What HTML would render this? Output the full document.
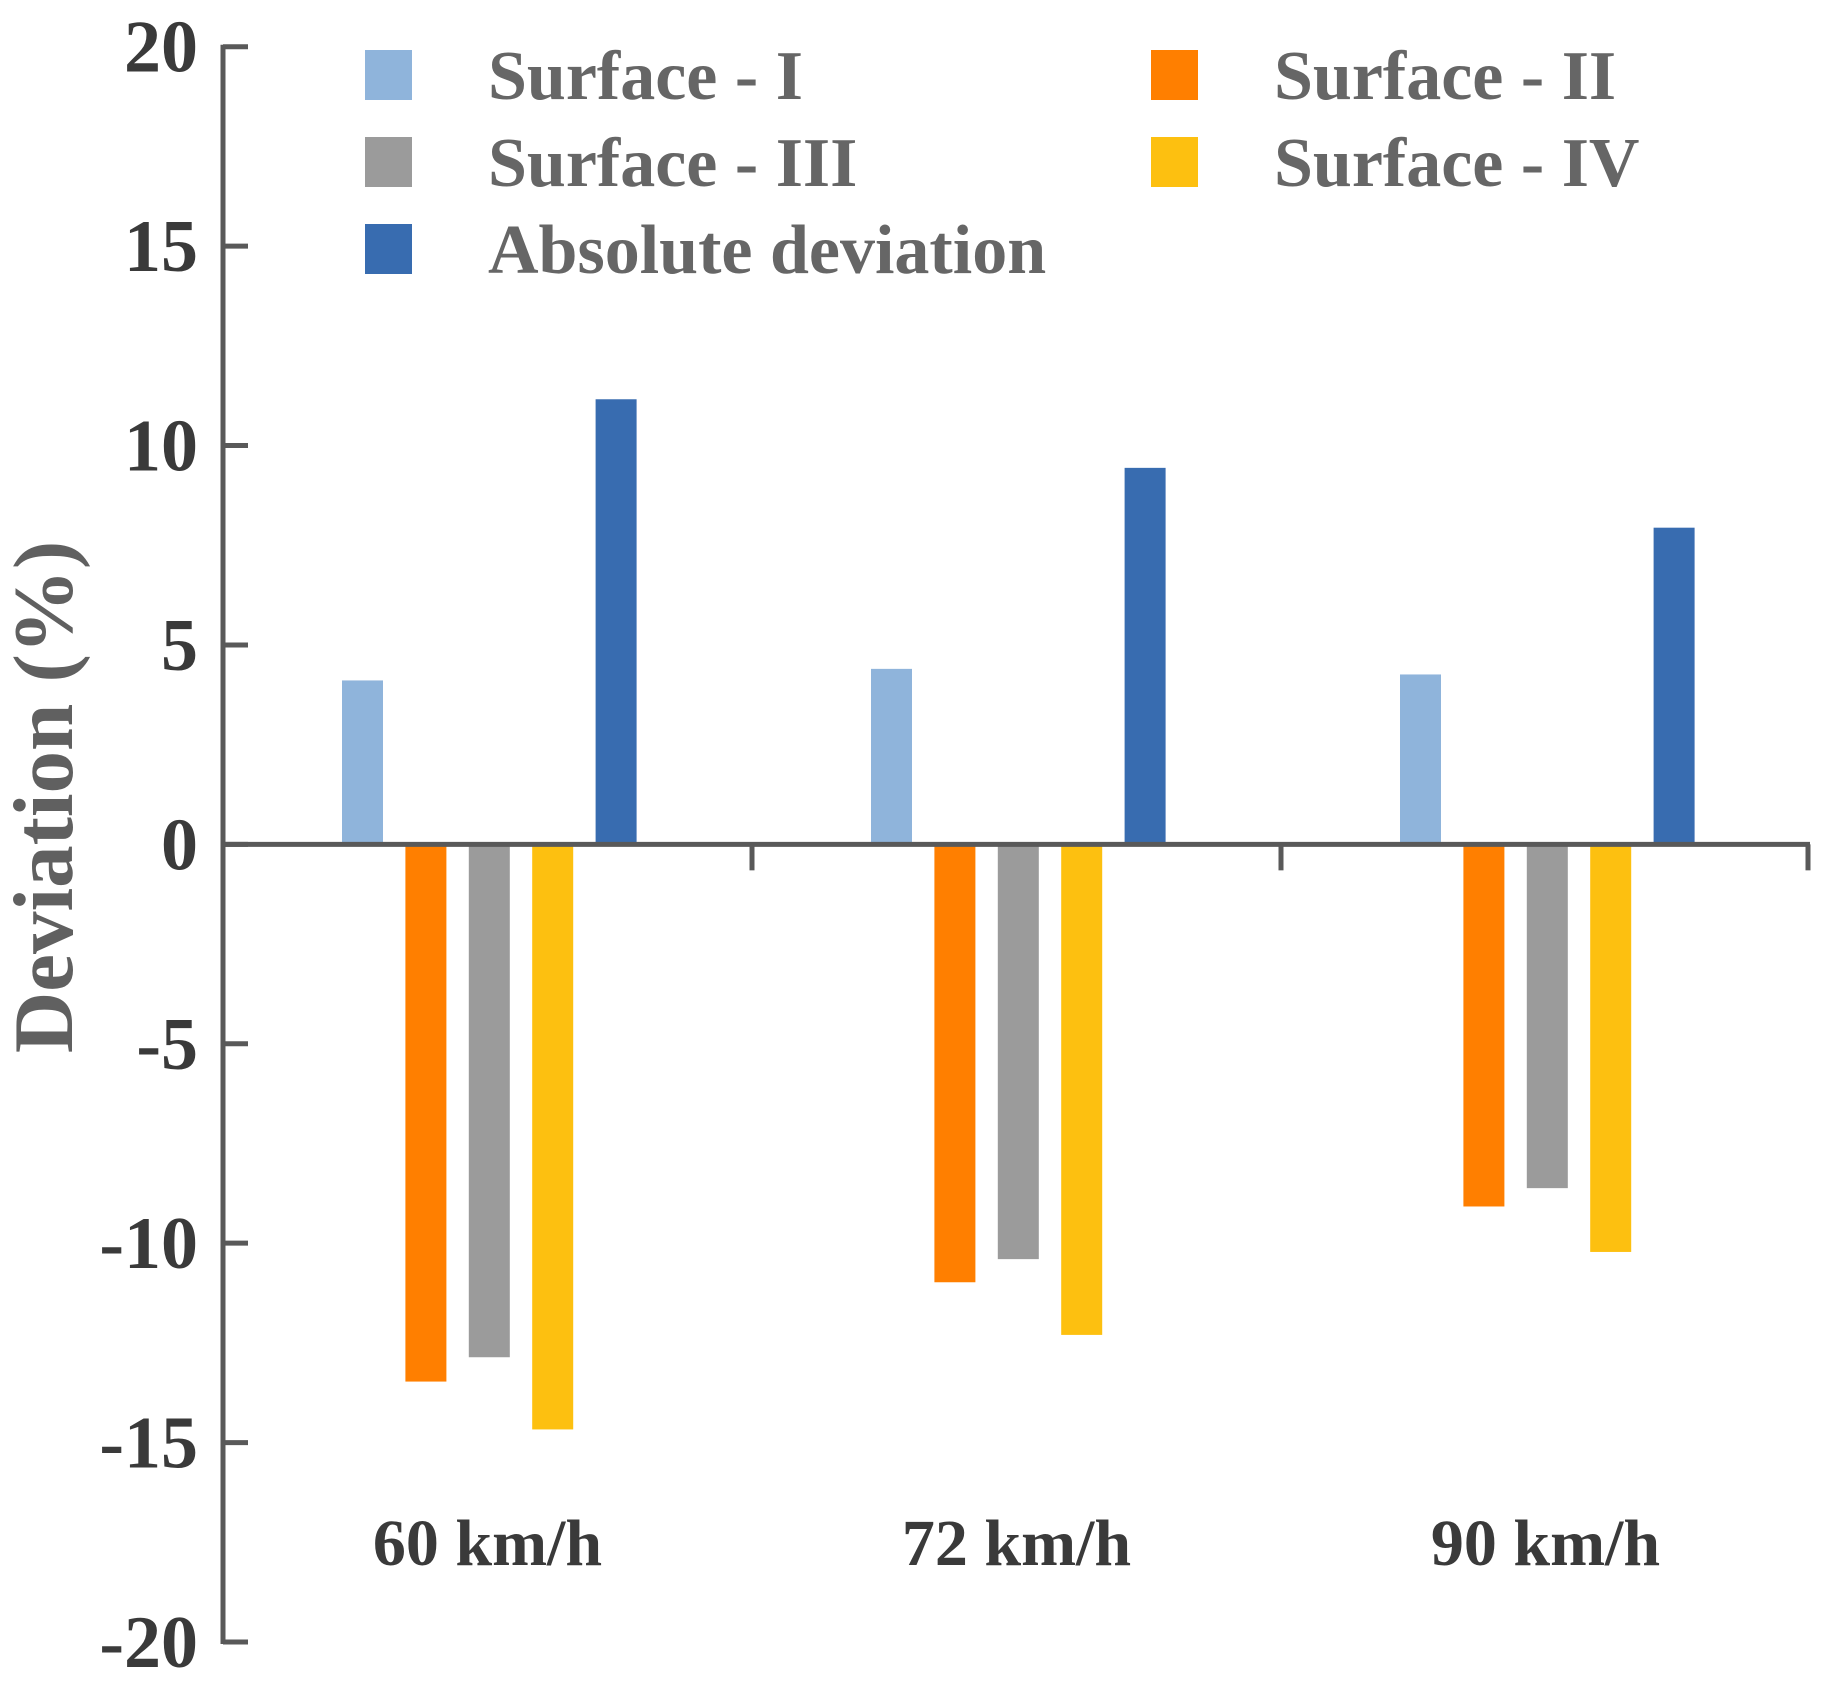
<!DOCTYPE html>
<html><head><meta charset="utf-8"><style>
html,body{margin:0;padding:0;background:#fff}
svg text{font-family:"Liberation Serif",serif;font-weight:bold}
</style></head><body>
<svg id="chart" width="1830" height="1678" viewBox="0 0 1830 1678" xmlns="http://www.w3.org/2000/svg"></svg>
<script>
const categories = ["60 km/h","72 km/h","90 km/h"];
const seriesNames = ["Surface - I","Surface - II","Surface - III","Surface - IV","Absolute deviation"];
const surface1 = [4.11, 4.4, 4.26];
const surface2 = [-13.47, -10.98, -9.08];
const surface3 = [-12.86, -10.4, -8.62];
const surface4 = [-14.67, -12.3, -10.22];
const absoluteDev = [11.16, 9.44, 7.94];
const yTicks = [20,15,10,5,0,-5,-10,-15,-20];
const yTickLabels = ["20","15","10","5","0","-5","-10","-15","-20"];

const colors = ["#8fb4db","#ff7f00","#9b9b9b","#fdc010","#386cb0"];
const series = [surface1,surface2,surface3,surface4,absoluteDev];
const svg = document.getElementById('chart');
const NS = "http://www.w3.org/2000/svg";
const axX = 223, y20 = 46.7, yM20 = 1642, xEnd = 1810;
const yScale = v => y20 + (20 - v) * (yM20 - y20) / 40;
const groupW = (xEnd - axX) / categories.length;
const barW = 41, barStep = 63.4, firstOff = 119;
function el(tag, attrs){const e=document.createElementNS(NS,tag);for(const k in attrs)e.setAttribute(k,attrs[k]);svg.appendChild(e);return e;}

series.forEach((vals, si) => {
  vals.forEach((v, ci) => {
    const x = axX + ci*groupW + firstOff + si*barStep;
    const y0 = yScale(0), y1 = yScale(v);
    const r = el('rect',{x:x,y:Math.min(y0,y1),width:barW,height:Math.abs(y1-y0),fill:colors[si]});
    
    
  });
});

const ya = el('line',{x1:axX,y1:y20-2,x2:axX,y2:yM20+2,stroke:"#595959","stroke-width":5});


yTicks.forEach((t,i)=>{
  const y = yScale(t);
  const tk = el('line',{x1:axX,y1:y,x2:axX+25,y2:y,stroke:"#595959","stroke-width":5});
  
  
  const lb = el('text',{x:198,y:y+25,"text-anchor":"end","font-size":74,fill:"#3a3a3a"});
  lb.textContent = yTickLabels[i];
  
  
});
const y0 = yScale(0);
const xa = el('line',{x1:axX,y1:y0,x2:xEnd,y2:y0,stroke:"#595959","stroke-width":5});


for(let i=1;i<=categories.length;i++){
  const x = axX + i*groupW - (i===categories.length?2:0);
  const tk = el('line',{x1:x,y1:y0,x2:x,y2:y0+26,stroke:"#595959","stroke-width":5});
  
  
}
categories.forEach((c,i)=>{
  const lb = el('text',{x:axX+(i+0.5)*groupW,y:1565,"text-anchor":"middle","font-size":66,fill:"#3a3a3a"});
  lb.textContent = c;
  
  
});
const yt = el('text',{x:0,y:0,"text-anchor":"middle","font-size":85,fill:"#606060",transform:"translate(72,797) rotate(-90)"});
yt.textContent = "Deviation (%)";


const legPos = [[365,75],[1151,75],[365,162],[1151,162],[365,249]];
seriesNames.forEach((n,i)=>{
  const [lx,ly] = legPos[i];
  const sq = el('rect',{x:lx,y:ly-25,width:47,height:50,fill:colors[i]});
  
  
  const tx = el('text',{x:lx+123,y:ly+24,"font-size":70,fill:"#666666"});
  tx.textContent = n;
  
  
});
</script>
</body></html>
